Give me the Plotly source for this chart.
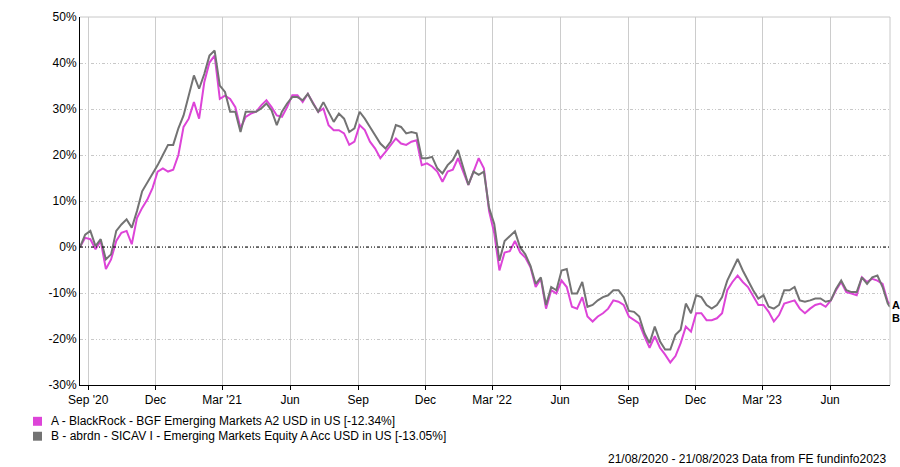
import pandas as pd
import plotly.graph_objects as go

start_date = "2020-08-21"
end_date = "2023-08-21"

series_a_name = "A - BlackRock - BGF Emerging Markets A2 USD in US [-12.34%]"
series_b_name = "B - abrdn - SICAV I - Emerging Markets Equity A Acc USD in US [-13.05%]"

series_a = [
    0, 2.0, 1.7, -0.5, 1.3, -4.8, -2.7, 1.3, 3.1, 3.5,
    0.6, 6.3, 8.5, 10.3, 12.8, 16.4, 17.1, 16.4, 16.8, 20.0,
    26.1, 27.9, 31.5, 27.9, 35.8, 40.1, 41.6, 32.2, 32.9, 32.2,
    30.4, 25.8, 28.3, 29.0, 29.4, 30.8, 31.9, 30.4, 28.6, 28.3,
    30.4, 33.0, 33.0, 31.5, 33.3, 31.2, 29.4, 30.1, 26.5, 25.4,
    25.4, 24.7, 22.2, 22.9, 26.5, 25.4, 22.9, 21.4, 19.3, 20.7,
    22.2, 23.6, 22.5, 22.2, 22.9, 23.2, 17.8, 18.2, 17.5, 16.4,
    14.2, 16.4, 16.8, 19.3, 16.4, 13.5, 16.4, 19.3, 17.1, 7.8,
    3.0, -5.1, -1.2, -0.9, 1.3, -1.2, -2.3, -4.4, -8.7, -6.9,
    -13.4, -9.4, -10.1, -7.3, -8.7, -13.0, -13.4, -10.9, -15.1, -16.2,
    -15.1, -14.4, -13.4, -11.6, -11.9, -12.6, -15.1, -15.9, -16.6, -19.4,
    -21.9, -19.4, -21.9, -23.4, -25.1, -23.7, -20.9, -17.3, -18.4, -14.4,
    -14.4, -15.9, -15.9, -15.5, -14.4, -9.4, -7.6, -6.2, -7.6, -8.7,
    -10.5, -12.6, -12.6, -14.1, -16.2, -14.8, -12.3, -11.9, -11.6, -13.4,
    -14.4, -13.4, -12.6, -12.3, -13.0, -11.6, -9.4, -7.6, -9.8, -10.1,
    -10.5, -6.6, -7.6, -6.9, -7.3, -8.0, -11.9, -12.34,
]

series_b = [
    0, 2.7, 3.5, 0.2, 1.7, -2.7, -1.6, 3.5, 4.9, 6.0,
    4.2, 7.8, 12.1, 13.9, 16.0, 17.8, 20.0, 22.2, 22.2, 25.8,
    28.6, 33.0, 37.3, 34.4, 37.6, 41.6, 42.7, 35.1, 33.7, 29.4,
    29.4, 25.0, 29.4, 29.4, 29.4, 30.1, 31.2, 29.7, 26.5, 29.4,
    31.2, 32.6, 32.6, 31.9, 33.3, 31.2, 29.4, 31.5, 29.4, 27.2,
    29.0, 27.9, 25.0, 25.8, 29.4, 27.9, 26.1, 24.3, 22.5, 21.4,
    22.9, 26.5, 26.1, 24.7, 25.0, 24.7, 19.3, 19.3, 19.6, 17.1,
    16.0, 17.8, 18.9, 21.1, 17.5, 13.5, 16.4, 15.7, 16.4, 8.5,
    5.0, -3.0, 1.3, 2.4, 3.4, -0.1, -1.6, -4.1, -8.0, -6.6,
    -12.6, -8.7, -9.4, -5.1, -4.8, -10.1, -10.1, -7.6, -13.0, -12.6,
    -11.6, -10.9, -10.5, -9.4, -9.4, -10.9, -13.9, -14.1, -15.1, -18.7,
    -20.9, -17.3, -20.5, -22.3, -22.3, -19.1, -18.0, -12.3, -14.4, -10.5,
    -10.9, -12.6, -13.4, -12.6, -10.9, -7.3, -5.1, -2.6, -5.1, -7.3,
    -9.4, -11.2, -10.5, -13.0, -13.4, -12.6, -9.4, -9.4, -8.7, -11.6,
    -11.9, -11.6, -11.2, -11.2, -11.9, -11.6, -9.1, -7.3, -9.4, -9.8,
    -9.8, -6.6, -8.0, -6.6, -6.2, -8.7, -12.3, -13.05,
]

tick_dates = ["2020-09-01", "2020-12-01", "2021-03-01", "2021-06-01", "2021-09-01",
              "2021-12-01", "2022-03-01", "2022-06-01", "2022-09-01", "2022-12-01",
              "2023-03-01", "2023-06-01"]
tick_labels = ["Sep '20", "Dec", "Mar '21", "Jun", "Sep", "Dec", "Mar '22", "Jun",
               "Sep", "Dec", "Mar '23", "Jun"]
y_ticks = [-30, -20, -10, 0, 10, 20, 30, 40, 50]
y_labels = ["-30%", "-20%", "-10%", "0%", "10%", "20%", "30%", "40%", "50%"]

dates = list(pd.date_range(start_date, periods=len(series_a) - 1, freq="7D")) + [pd.Timestamp(end_date)]

color_a = "#dd44d8"
color_b = "#737373"
font_family = "Liberation Sans, Arial, sans-serif"

fig = go.Figure()
fig.add_trace(go.Scatter(x=dates, y=series_a, mode="lines", name=series_a_name,
                         line=dict(color=color_a, width=2), showlegend=False))
fig.add_trace(go.Scatter(x=dates, y=series_b, mode="lines", name=series_b_name,
                         line=dict(color=color_b, width=2), showlegend=False))

W, H = 900, 467
ml, mr, mt, mb = 80, 10, 15, 82
pw, ph = W - ml - mr, H - mt - mb

def px(xp):
    return (xp - ml) / pw

def py(yp):
    return (H - mb - yp) / ph

shapes = [
    dict(type="line", xref="paper", yref="y", x0=0, x1=1, y0=0, y1=0,
         line=dict(color="black", width=1, dash="3px,2px,1px,2px,1px,2px")),
    dict(type="line", xref="paper", yref="paper", x0=0, x1=1, y0=1, y1=1,
         line=dict(color="#c8c8c8", width=1)),
    dict(type="line", xref="paper", yref="paper", x0=1, x1=1, y0=0, y1=1,
         line=dict(color="#c8c8c8", width=1)),
    dict(type="rect", xref="paper", yref="paper", x0=px(33), x1=px(42), y0=py(426), y1=py(417),
         fillcolor=color_a, line=dict(width=0)),
    dict(type="rect", xref="paper", yref="paper", x0=px(33), x1=px(42), y0=py(441), y1=py(432),
         fillcolor=color_b, line=dict(width=0)),
]

annotations = [
    dict(xref="paper", yref="paper", x=px(49), y=py(421.5), text=series_a_name, showarrow=False,
         xanchor="left", yanchor="middle", font=dict(size=12, color="black")),
    dict(xref="paper", yref="paper", x=px(49), y=py(436.5), text=series_b_name, showarrow=False,
         xanchor="left", yanchor="middle", font=dict(size=12, color="black")),
    dict(xref="paper", yref="paper", x=px(889), y=py(459), text="21/08/2020 - 21/08/2023 Data from FE fundinfo2023",
         showarrow=False, xanchor="right", yanchor="middle", font=dict(size=12, color="black")),
    dict(xref="paper", yref="y", x=1, y=series_a[-1], text="<b>A</b>", showarrow=False,
         xanchor="left", yanchor="middle", xshift=0, yshift=-1, font=dict(size=11, color="black")),
    dict(xref="paper", yref="y", x=1, y=series_b[-1], text="<b>B</b>", showarrow=False,
         xanchor="left", yanchor="middle", xshift=0, yshift=-11, font=dict(size=11, color="black")),
]

fig.update_layout(
    width=W, height=H,
    margin=dict(l=ml, r=mr, t=mt, b=mb),
    paper_bgcolor="white", plot_bgcolor="white",
    font=dict(family=font_family, size=12, color="black"),
    showlegend=False,
    hovermode=False,
    shapes=shapes,
    annotations=annotations,
    xaxis=dict(
        range=[start_date, end_date],
        tickmode="array", tickvals=tick_dates, ticktext=tick_labels,
        showgrid=True, gridcolor="#cccccc", gridwidth=1,
        showline=True, linecolor="black", linewidth=1,
        ticks="outside", ticklen=4, tickcolor="black",
        zeroline=False, tickfont=dict(size=12),
    ),
    yaxis=dict(
        range=[-30, 50], tickmode="array", tickvals=y_ticks, ticktext=y_labels,
        showgrid=True, gridcolor="#c8c8c8", gridwidth=1,
        griddash="3px,2px,1px,2px,1px,2px",
        showline=True, linecolor="black", linewidth=1,
        ticks="", zeroline=False, tickfont=dict(size=12),
    ),
)

fig.write_html("out.html", config={"displayModeBar": False, "staticPlot": True},
               post_script="document.body.style.margin='0';document.body.style.overflow='hidden';")
